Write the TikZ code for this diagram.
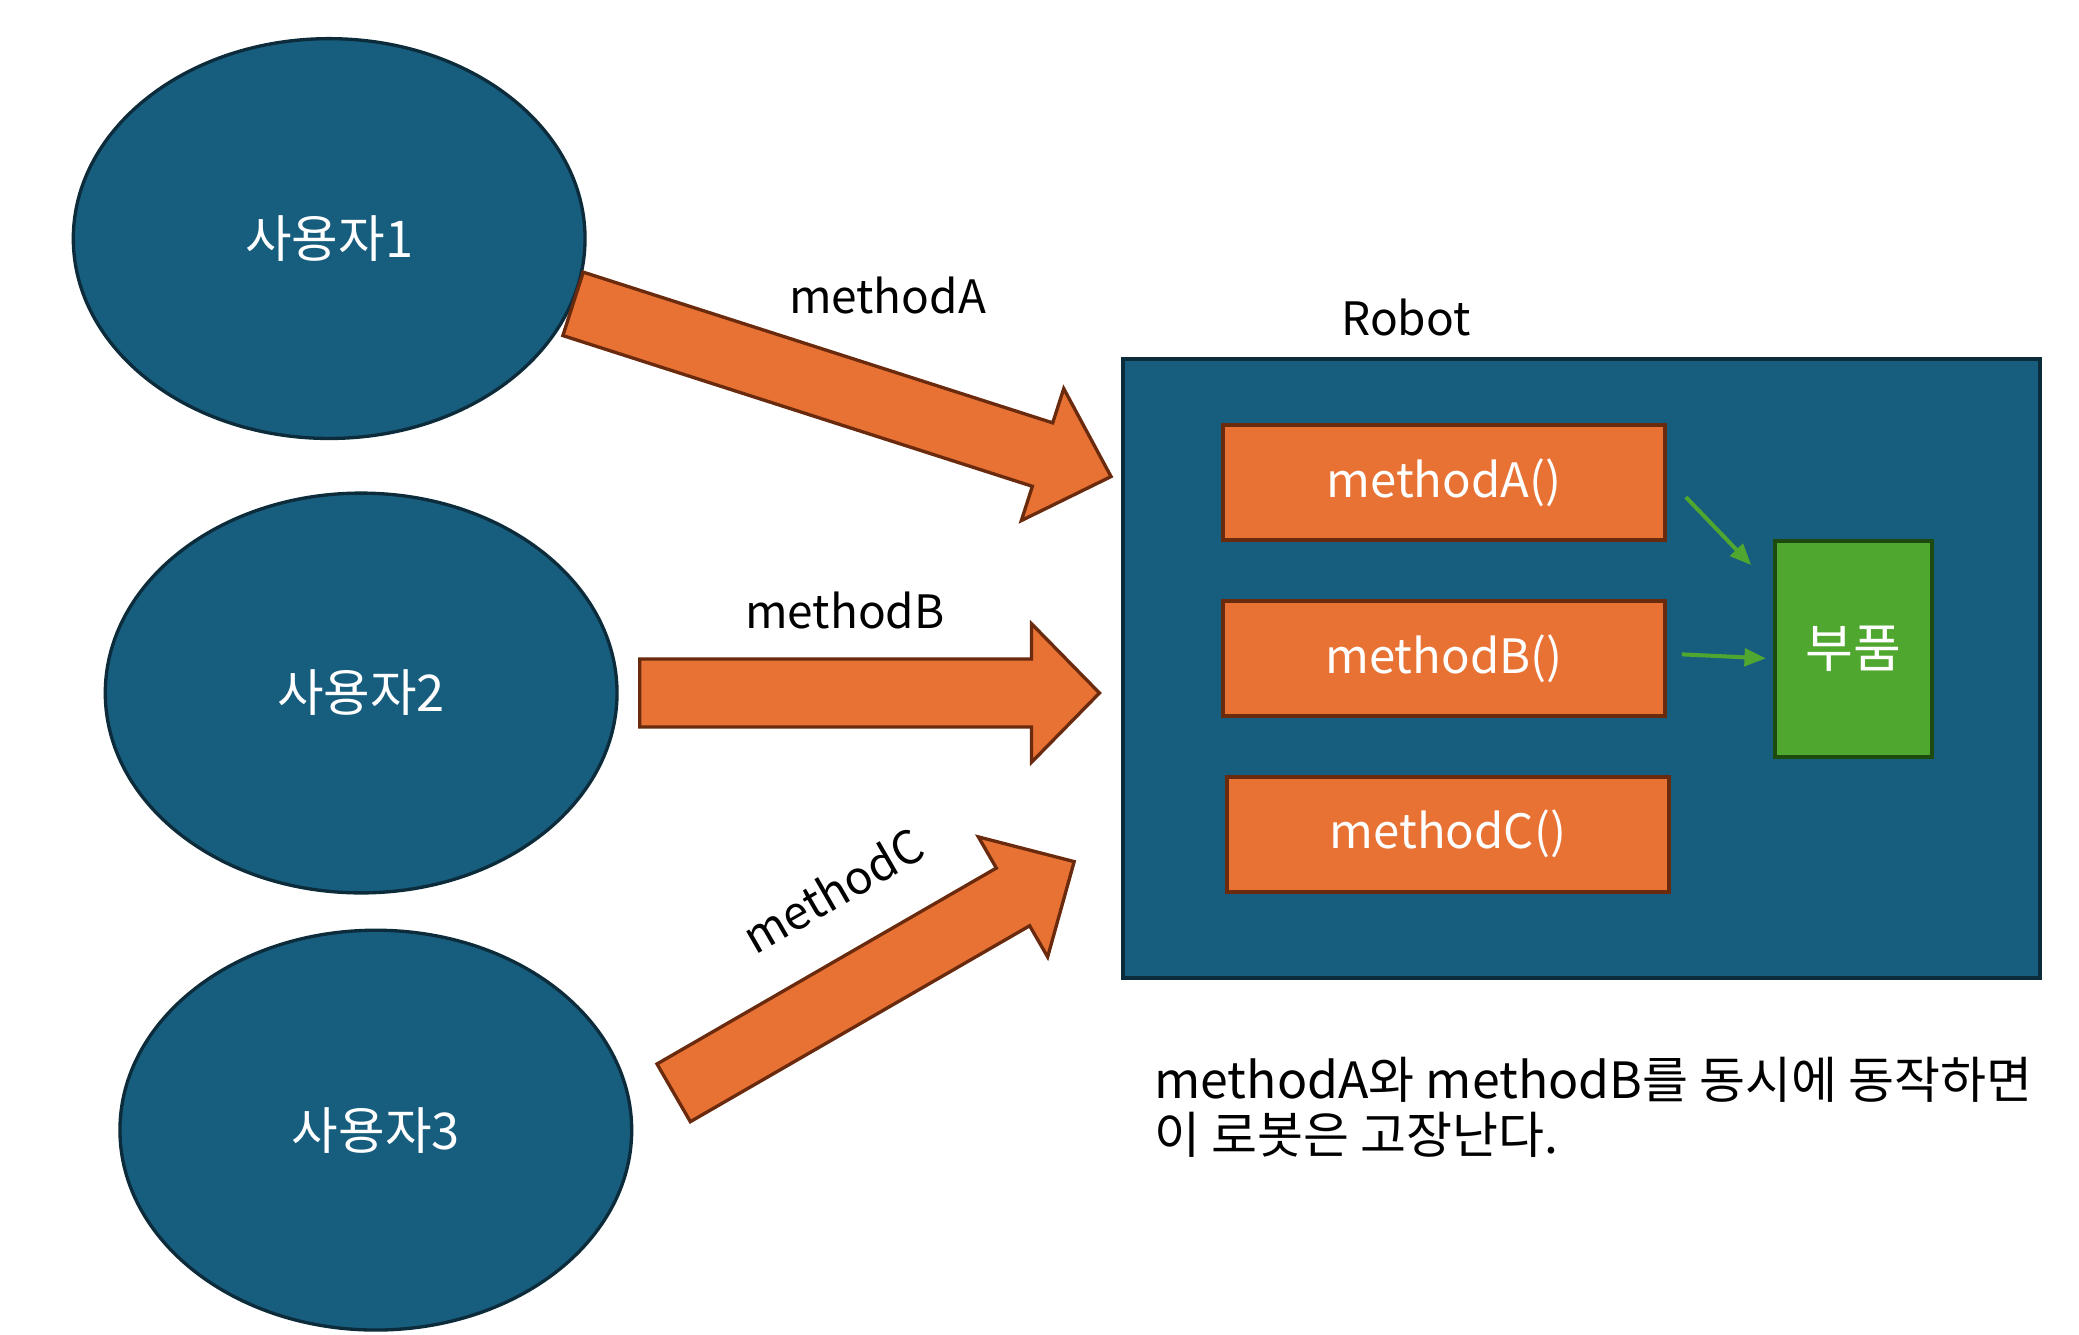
\documentclass[tikz,border=0pt]{standalone}
\usepackage{fontspec}
\setmainfont{Noto Sans CJK KR}
\usetikzlibrary{arrows.meta}
\definecolor{ublue}{HTML}{175E7E}
\definecolor{ubord}{HTML}{0C2B3B}
\definecolor{orng}{HTML}{E87234}
\definecolor{orbord}{HTML}{6A2A0E}
\definecolor{grn}{HTML}{4FA72F}
\definecolor{grbord}{HTML}{1D4A0F}
\tikzset{
  user/.style={ellipse, draw=ubord, fill=ublue, line width=2.5pt, text=white, font=\fontsize{38}{44}\selectfont, minimum width=384pt, minimum height=300pt, inner sep=0pt},
  methbox/.style={rectangle, draw=orbord, fill=orng, line width=3pt, text=white, font=\fontsize{35.5}{42}\selectfont, minimum width=331pt, minimum height=86pt, inner sep=0pt},
  partbox/.style={rectangle, draw=grbord, fill=grn, line width=3pt, text=white, font=\fontsize{39}{44}\selectfont, minimum width=118pt, minimum height=162pt, inner sep=0pt},
  robotbox/.style={rectangle, draw=ubord, fill=ublue, line width=3pt, minimum width=688pt, minimum height=465pt, inner sep=0pt},
  lbl/.style={text=black, font=\fontsize{34.5}{40}\selectfont, inner sep=0pt},
  barrow/.style={draw=orbord, fill=orng, line width=2.5pt, line join=miter},
  garrow/.style={draw=grn, line width=3pt, -{Triangle[length=16pt,width=13pt]}}
}
\usetikzlibrary{shapes.geometric}
\begin{document}
\begin{tikzpicture}[x=1pt,y=-1pt]
\useasboundingbox (0,0) rectangle (1560,1001.7);
% users
\node[user] (u1) at (247,179) {사용자1};
\node[user] (u2) at (271,520) {사용자2};
\node[user] (u3) at (282,848) {사용자3};
% robot
\node[robotbox] (robot) at (1187,501.5) {};
\node[lbl] (robotlbl) at (1055,238) {Robot};
\node[methbox] (ma) at (1083.5,362) {methodA()};
\node[methbox] (mb) at (1083.5,494) {methodB()};
\node[methbox] (mc) at (1086.5,626) {methodC()};
\node[partbox] (part) at (1391,487) {부품};
% green arrows
\coordinate (ga1) at (1265,373);
\coordinate (ga2) at (1314,424);
\coordinate (gb1) at (1262,491);
\coordinate (gb2) at (1325,494);
\draw[garrow] (ga1) -- (ga2);
\draw[garrow] (gb1) -- (gb2);
% block arrow A
\begin{scope}[shift={(430,228)}, rotate=-17.8]
  \draw[barrow] (0,-25) -- (370,-25) -- (370,-52) -- (424,0) -- (370,52) -- (370,25) -- (0,25) -- cycle;
\end{scope}
% block arrow B
\begin{scope}[shift={(480,520)}]
  \draw[barrow] (0,-25.5) -- (294,-25.5) -- (294,-52) -- (345,0) -- (294,52) -- (294,25.5) -- (0,25.5) -- cycle;
\end{scope}
% block arrow C
\begin{scope}[shift={(505.5,820)}, rotate=30]
  \draw[barrow] (0,-25) -- (294,-25) -- (294,-52) -- (347,0) -- (294,52) -- (294,25) -- (0,25) -- cycle;
\end{scope}
% labels
\node[lbl] (la) at (666,222) {methodA};
\node[lbl] (lb) at (634,458) {methodB};
\node[lbl, rotate=30] (lc) at (625,668) {methodC};
% note
\node[lbl, anchor=north west, align=left, font=\fontsize{37.5}{41}\selectfont] (note) at (866,793) {methodA와 methodB를 동시에 동작하면\\이 로봇은 고장난다.};
\end{tikzpicture}
\end{document}
